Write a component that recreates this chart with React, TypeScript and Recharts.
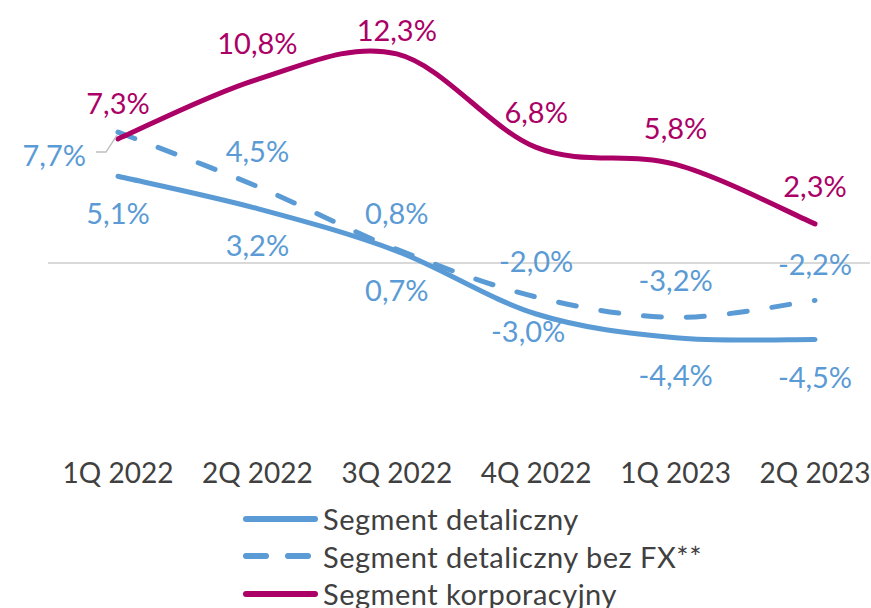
import React from 'react';
import { LineChart, Line, XAxis, YAxis, ReferenceLine, LabelList } from 'recharts';

const quarters = ['1Q 2022', '2Q 2022', '3Q 2022', '4Q 2022', '1Q 2023', '2Q 2023'];
const retail = [5.1, 3.2, 0.7, -3.0, -4.4, -4.5];
const retailExFx = [7.7, 4.5, 0.8, -2.0, -3.2, -2.2];
const corporate = [7.3, 10.8, 12.3, 6.8, 5.8, 2.3];

const BLUE = '#5B9BD5';
const RASPBERRY = '#AB0066';
const TEXT = '#404040';
const FONT = 'Lato, "Open Sans", sans-serif';

// label offsets (px from the point to the label centre), Excel-style placement
const retailLabelDy = [37, 37, 39, 18, 38, 38];
const retailLabelDx = [0, 0, 0, -8, 0, 0];
const exFxLabelDy = [23, -35, -36, -35, -37, -36];
const corporateLabelDy = [-35, -36, -23, -35, -36, -37];

const chartData = quarters.map((q, i) => ({
  quarter: q,
  retail: retail[i],
  retailExFx: retailExFx[i],
  corporate: corporate[i],
}));

const fmt = (v: number) => `${v.toFixed(1).replace('.', ',')}%`;

// smoothed line like Excel's (Catmull-Rom -> bezier, 1/6 tangents)
const excelSmooth = (context: any) => {
  let xs: number[] = [];
  let ys: number[] = [];
  return {
    areaStart() {},
    areaEnd() {},
    lineStart() {
      xs = [];
      ys = [];
    },
    lineEnd() {
      const n = xs.length;
      if (!n) return;
      context.moveTo(xs[0], ys[0]);
      for (let i = 0; i < n - 1; i++) {
        const p0 = i > 0 ? i - 1 : i;
        const p3 = i + 2 < n ? i + 2 : i + 1;
        context.bezierCurveTo(
          xs[i] + (xs[i + 1] - xs[p0]) / 6,
          ys[i] + (ys[i + 1] - ys[p0]) / 6,
          xs[i + 1] - (xs[p3] - xs[i]) / 6,
          ys[i + 1] - (ys[p3] - ys[i]) / 6,
          xs[i + 1],
          ys[i + 1]
        );
      }
    },
    point(x: number, y: number) {
      xs.push(+x);
      ys.push(+y);
    },
  };
};

const makeLabel = (color: string, dys: number[], dxs?: number[], leaderFirst?: boolean) => (props: any) => {
  const { x, y, value, index } = props;
  if (leaderFirst && index === 0) {
    // label pushed to the left with a grey leader line
    return (
      <g>
        <polyline
          points={`${x - 22},${y + 20} ${x - 12},${y + 20} ${x - 1},${y + 3}`}
          fill="none"
          stroke="#bfbfbf"
          strokeWidth={1.5}
        />
        <text x={x - 32} y={y + dys[index]} dy="0.36em" textAnchor="end" fill={color} fontSize={29} fontFamily={FONT}>
          {fmt(value)}
        </text>
      </g>
    );
  }
  return (
    <text
      x={x + (dxs ? dxs[index] : 0)}
      y={y + dys[index]}
      dy="0.36em"
      textAnchor="middle"
      fill={color}
      fontSize={29}
      fontFamily={FONT}
    >
      {fmt(value)}
    </text>
  );
};

const QuarterTick = ({ x, y, payload }: any) => (
  <text x={x} y={y} dy={31} textAnchor="middle" fill={TEXT} fontSize={28} fontFamily={FONT}>
    {payload.value}
  </text>
);

const legendItems = [
  { name: 'Segment detaliczny', color: BLUE, dash: undefined },
  { name: 'Segment detaliczny bez FX**', color: BLUE, dash: '18 25' },
  { name: 'Segment korporacyjny', color: RASPBERRY, dash: undefined },
];

const App = () => {
  return (
    <div style={{ position: 'absolute', left: 0, top: 0, width: 871, height: 608, background: '#fff', overflow: 'hidden' }}>
      <LineChart width={871} height={500} data={chartData} margin={{ top: 25, right: 1, left: 48, bottom: 0 }}>
        <XAxis
          dataKey="quarter"
          padding={{ left: 70, right: 55 }}
          axisLine={false}
          tickLine={false}
          tickSize={0}
          height={50}
          interval={0}
          tick={<QuarterTick />}
        />
        <YAxis type="number" domain={[-11, 14]} hide allowDataOverflow />
        <ReferenceLine y={0} stroke="#d9d9d9" strokeWidth={2} />
        <Line
          dataKey="retail"
          type={excelSmooth as any}
          stroke={BLUE}
          strokeWidth={5}
          strokeLinecap="round"
          dot={false}
          activeDot={false}
          isAnimationActive={false}
        >
          <LabelList dataKey="retail" content={makeLabel(BLUE, retailLabelDy, retailLabelDx)} />
        </Line>
        <Line
          dataKey="retailExFx"
          type={excelSmooth as any}
          stroke={BLUE}
          strokeWidth={5}
          strokeDasharray="18 25"
          strokeLinecap="round"
          dot={false}
          activeDot={false}
          isAnimationActive={false}
        >
          <LabelList dataKey="retailExFx" content={makeLabel(BLUE, exFxLabelDy, undefined, true)} />
        </Line>
        <Line
          dataKey="corporate"
          type={excelSmooth as any}
          stroke={RASPBERRY}
          strokeWidth={5}
          strokeLinecap="round"
          dot={false}
          activeDot={false}
          isAnimationActive={false}
        >
          <LabelList dataKey="corporate" content={makeLabel(RASPBERRY, corporateLabelDy)} />
        </Line>
      </LineChart>
      <div
        style={{
          position: 'absolute',
          left: 243,
          top: 500,
          fontFamily: FONT,
          fontSize: 29,
          letterSpacing: 0.5,
          color: TEXT,
        }}
      >
        {legendItems.map((item) => (
          <div key={item.name} style={{ display: 'flex', alignItems: 'center', height: 37.5, whiteSpace: 'nowrap' }}>
            <svg width={80} height={10}>
              <line
                x1={3}
                y1={5}
                x2={72}
                y2={5}
                stroke={item.color}
                strokeWidth={6}
                strokeLinecap="round"
                strokeDasharray={item.dash ? '20 22' : undefined}
              />
            </svg>
            <span>{item.name}</span>
          </div>
        ))}
      </div>
    </div>
  );
};

export default App;
